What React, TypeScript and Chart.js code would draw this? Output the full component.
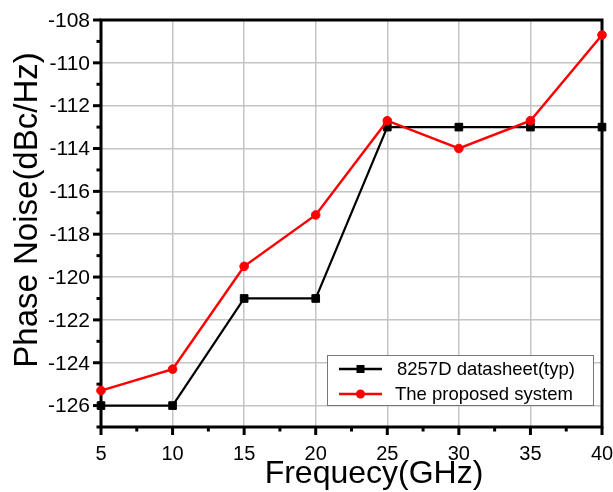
import React, { useEffect, useRef } from "react";
import { Chart, registerables } from "chart.js";

Chart.register(...registerables);

const frequencies = [5, 10, 15, 20, 25, 30, 35, 40];
const datasheetNoise = [-126, -126, -121, -121, -113, -113, -113, -113];
const proposedNoise = [-125.3, -124.3, -119.5, -117.1, -112.7, -114, -112.7, -108.7];
const xTickValues = [5, 10, 15, 20, 25, 30, 35, 40];
const xMinorValues = [7.5, 12.5, 17.5, 22.5, 27.5, 32.5, 37.5];
const yTickValues = [-126, -124, -122, -120, -118, -116, -114, -112, -110, -108];
const yMinorValues = [-127, -125, -123, -121, -119, -117, -115, -113, -111, -109];
const seriesNames = ["8257D datasheet(typ)", "The proposed system"];
const xTitle = "Frequecy(GHz)";
const yTitle = "Phase Noise(dBc/Hz)";

const FONT = "'Liberation Sans', Arial, sans-serif";

const framePlugin = {
  id: "frame",
  beforeDatasetsDraw(chart: any) {
    const { ctx, chartArea } = chart;
    const xs = chart.scales.x;
    const ys = chart.scales.y;
    const { left, right, top, bottom } = chartArea;
    ctx.save();
    ctx.strokeStyle = "#000";
    ctx.lineWidth = 3;
    ctx.lineCap = "butt";
    ctx.strokeRect(left, top, right - left, bottom - top);
    for (const v of yTickValues) {
      const y = ys.getPixelForValue(v);
      ctx.beginPath();
      ctx.moveTo(left - 8, y);
      ctx.lineTo(left, y);
      ctx.stroke();
    }
    for (const v of yMinorValues) {
      const y = ys.getPixelForValue(v);
      ctx.beginPath();
      ctx.moveTo(left - 4.5, y);
      ctx.lineTo(left, y);
      ctx.stroke();
    }
    for (const v of xTickValues) {
      const x = xs.getPixelForValue(v);
      ctx.beginPath();
      ctx.moveTo(x, bottom);
      ctx.lineTo(x, bottom + 8);
      ctx.stroke();
    }
    for (const v of xMinorValues) {
      const x = xs.getPixelForValue(v);
      ctx.beginPath();
      ctx.moveTo(x, bottom);
      ctx.lineTo(x, bottom + 4.5);
      ctx.stroke();
    }
    ctx.fillStyle = "#000";
    ctx.font = `21px ${FONT}`;
    ctx.textAlign = "right";
    ctx.textBaseline = "middle";
    for (const v of yTickValues) {
      ctx.fillText(String(v), left - 11, ys.getPixelForValue(v) + 1);
    }
    ctx.font = `20px ${FONT}`;
    ctx.textAlign = "center";
    ctx.textBaseline = "middle";
    for (const v of xTickValues) {
      ctx.fillText(String(v), xs.getPixelForValue(v), bottom + 27);
    }
    ctx.font = `32px ${FONT}`;
    ctx.textAlign = "center";
    ctx.textBaseline = "alphabetic";
    ctx.fillText(xTitle, 374, 483);
    ctx.save();
    ctx.font = `33px ${FONT}`;
    ctx.translate(37, 210);
    ctx.rotate(-Math.PI / 2);
    ctx.fillText(yTitle, 0, 0);
    ctx.restore();
    ctx.restore();
  },
  afterDraw(chart: any) {
    const { ctx } = chart;
    ctx.save();
    const bx = 327, by = 355, bw = 266, bh = 50;
    ctx.fillStyle = "#fff";
    ctx.fillRect(bx, by, bw, bh);
    ctx.strokeStyle = "#777";
    ctx.lineWidth = 1;
    ctx.strokeRect(bx + 0.5, by + 0.5, bw, bh);
    const rows = [
      { y: 369, color: "#000", shape: "rect", label: seriesNames[0] },
      { y: 394, color: "#ff0000", shape: "circle", label: seriesNames[1] },
    ];
    for (const r of rows) {
      ctx.strokeStyle = r.color;
      ctx.fillStyle = r.color;
      ctx.lineWidth = 2.5;
      ctx.beginPath();
      ctx.moveTo(339, r.y);
      ctx.lineTo(382, r.y);
      ctx.stroke();
      if (r.shape === "rect") {
        ctx.fillRect(356.5, r.y - 4, 8, 8);
      } else {
        ctx.beginPath();
        ctx.arc(360.5, r.y, 4.5, 0, Math.PI * 2);
        ctx.fill();
      }
      ctx.fillStyle = "#000";
      ctx.font = `18.5px ${FONT}`;
      ctx.textAlign = "left";
      ctx.textBaseline = "middle";
      ctx.fillText(r.label, r.shape === "rect" ? 397 : 395, r.y + 1);
    }
    ctx.restore();
  },
};

export default function App() {
  const ref = useRef<HTMLCanvasElement>(null);
  useEffect(() => {
    if (!ref.current) return;
    const chart = new Chart(ref.current, {
      type: "line",
      data: {
        datasets: [
          {
            label: seriesNames[1],
            data: frequencies.map((f, i) => ({ x: f, y: proposedNoise[i] })),
            borderColor: "#ff0000",
            backgroundColor: "#ff0000",
            borderWidth: 2.5,
            pointStyle: "circle",
            pointRadius: 4.3,
            pointBorderWidth: 1,
            tension: 0,
            clip: false as any,
          },
          {
            label: seriesNames[0],
            data: frequencies.map((f, i) => ({ x: f, y: datasheetNoise[i] })),
            borderColor: "#000",
            backgroundColor: "#000",
            borderWidth: 2.2,
            pointStyle: "rect",
            pointRadius: 5.4,
            pointBorderWidth: 1,
            tension: 0,
            clip: false as any,
          },
        ],
      },
      options: {
        responsive: false,
        animation: false,
        layout: { padding: { top: 20, right: 11, left: 0, bottom: 0 } },
        plugins: { legend: { display: false }, tooltip: { enabled: false } },
        scales: {
          x: {
            type: "linear",
            min: 5,
            max: 40,
            afterBuildTicks: (axis: any) => {
              axis.ticks = xTickValues.map((v) => ({ value: v }));
            },
            afterFit: (axis: any) => {
              axis.height = 65;
            },
            ticks: { display: false },
            grid: { color: "#c4c4c4", lineWidth: 1.5, drawTicks: false },
            border: { display: false },
          },
          y: {
            type: "linear",
            min: -127,
            max: -108,
            afterBuildTicks: (axis: any) => {
              axis.ticks = yTickValues.map((v) => ({ value: v }));
            },
            afterFit: (axis: any) => {
              axis.width = 101;
            },
            ticks: { display: false },
            grid: { color: "#c4c4c4", lineWidth: 1.5, drawTicks: false },
            border: { display: false },
          },
        },
      },
      plugins: [framePlugin],
    });
    return () => chart.destroy();
  }, []);
  return (
    <div style={{ position: "fixed", left: 0, top: 0, width: 613, height: 492, background: "#fff" }}>
      <canvas ref={ref} width={613} height={492} style={{ display: "block" }} />
    </div>
  );
}
